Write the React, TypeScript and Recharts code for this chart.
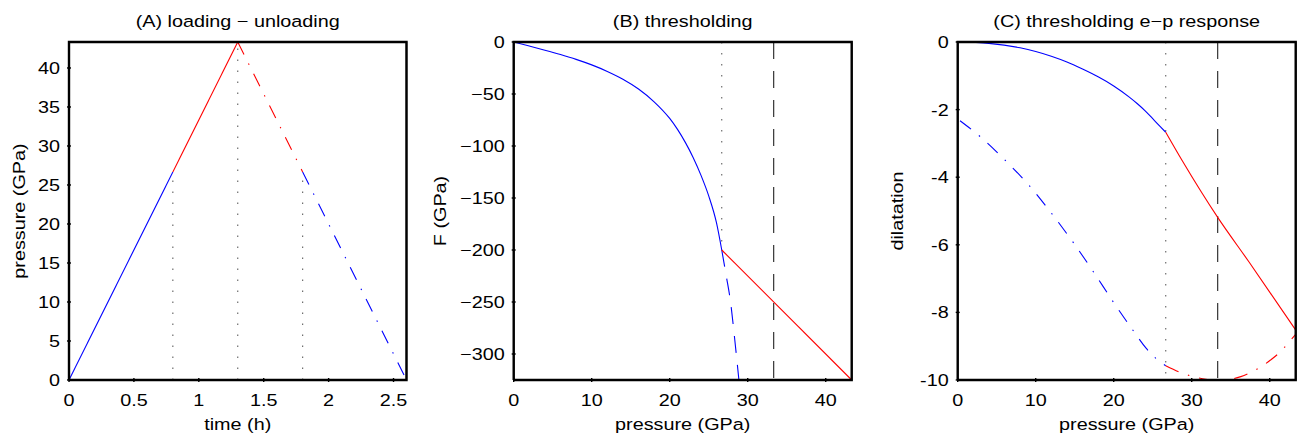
import { LineChart, Line, XAxis, YAxis } from "recharts";

const FONT = "'Liberation Sans', Arial, Helvetica, sans-serif";
const FS = 16.5;
const SX = 1.2; // the reference glyphs are stretched horizontally
const BLUE = "#0000ff";
const RED = "#ff0000";
const GRAY = "#606060";
const DASHDOT = "14 10 1.5 10";
const DASHED = "17 12";
const DOTTED = "1.5 9.5";

// ---- (A) loading - unloading
const timeTicks = [0, 0.5, 1, 1.5, 2, 2.5];
const pressTicksA = [0, 5, 10, 15, 20, 25, 30, 35, 40];
const loadT = [0, 0.8, 1.3];
const loadP = [0, 26.67, 43.33];
const unloadT = [1.3, 1.8, 2.6];
const unloadP = [43.33, 26.67, 0];
const markT = [0.8, 1.3, 1.8];
const markTop = [26.67, 43.33, 26.67];

// ---- (B) thresholding
const pressTicks = [0, 10, 20, 30, 40];
const fTicks = [0, -50, -100, -150, -200, -250, -300];
const fCurveP = [0, 2, 4, 6, 8, 10, 12, 14, 16, 18, 20, 21, 22, 23, 24, 25, 26, 26.67];
const fCurveF = [0, -3.9, -7.9, -12.1, -16.7, -22, -28.3, -35.8, -45.2, -57.5, -73.5, -84, -96.5, -111, -128, -148, -174, -200];
const fExtP = [26.67, 27.25, 27.8, 28.35, 28.87];
const fExtF = [-200, -225, -250, -287, -325];
const fCapP = [26.67, 43.33];
const fCapF = [-200, -325];

// ---- (C) thresholding e-p response
const dilTicks = [0, -2, -4, -6, -8, -10];
const elasP = [0, 4, 8, 10, 12, 14, 16, 18, 20, 22, 23, 24, 25, 26, 26.67];
const elasD = [0, -0.04, -0.17, -0.28, -0.42, -0.59, -0.8, -1.03, -1.3, -1.63, -1.82, -2.03, -2.27, -2.51, -2.67];
const plasP = [26.67, 28.83, 33.33, 37.35, 43.33];
const plasD = [-2.67, -3.53, -5.19, -6.51, -8.52];
const unlBlueP = [0.3, 2.98, 6.26, 9.37, 12.2, 14.9, 17.46, 20.0, 22.44, 24.15, 25.4, 26.67];
const unlBlueD = [-2.33, -2.82, -3.54, -4.3, -5.12, -5.96, -6.82, -7.71, -8.52, -9.06, -9.36, -9.58];
const unlRedP = [26.67, 28.8, 30.5, 31.8, 33.1, 34.8, 36.3, 37.8, 40.1, 41.6, 42.5, 43.33];
const unlRedD = [-9.58, -9.8, -9.92, -9.98, -10, -9.98, -9.9, -9.75, -9.41, -9.11, -8.87, -8.65];

const THRESH = 26.67;
const YIELD = 33.33;

const pts = (xs: number[], ys: number[]) => xs.map((x, i) => ({ x, y: ys[i] }));
const vline = (x: number, y0: number, y1: number) => [{ x, y: y0 }, { x, y: y1 }];
const box = (xd: number[], yd: number[]) => [
  { x: xd[0], y: yd[0] }, { x: xd[1], y: yd[0] }, { x: xd[1], y: yd[1] },
  { x: xd[0], y: yd[1] }, { x: xd[0], y: yd[0] },
];

type Series = { data: { x: number; y: number }[]; color: string; dash?: string; curve?: boolean; w?: number };

const txt = (x: number, y: number, s: string, anchor: string, rot = false) => (
  <text
    transform={`translate(${x},${y})${rot ? " rotate(-90)" : ""} scale(${SX},1)`}
    textAnchor={anchor}
    fontFamily={FONT}
    fontSize={FS}
    fill="#000"
  >
    {s}
  </text>
);

// tick marks drawn as paths, pointing into the plot
const tk = (x1: number, y1: number, x2: number, y2: number) => (
  <path d={`M${x1},${y1}L${x2},${y2}`} stroke="#000" strokeWidth={1.4} fill="none" />
);

const BottomTick = (p: any, fmt: (v: number) => string) => (
  <g>
    {tk(p.x, p.y, p.x, p.y - 4)}
    {txt(p.x, p.y + 24, fmt(p.payload.value), "middle")}
  </g>
);
const LeftTick = (p: any, fmt: (v: number) => string) => (
  <g>
    {tk(p.x, p.y, p.x + 4, p.y)}
    {txt(p.x - 7, p.y + 6, fmt(p.payload.value), "end")}
  </g>
);
const TopTick = (p: any) => <g>{tk(p.x, p.y, p.x, p.y + 4)}</g>;
const RightTick = (p: any) => <g>{tk(p.x, p.y, p.x - 4, p.y)}</g>;

const frame = { stroke: "#000", strokeWidth: 1.3 };

function Panel(props: {
  left: number;
  width: number;
  yw: number;
  rm: number;
  xDomain: number[];
  yDomain: number[];
  xTicks: number[];
  yTicks: number[];
  xFmt: (v: number) => string;
  yFmt: (v: number) => string;
  series: Series[];
}) {
  const { left, width, yw, rm, xDomain, yDomain, xTicks, yTicks, xFmt, yFmt, series } = props;
  const all: Series[] = [...series, { data: box(xDomain, yDomain), color: "#000000", w: 2.4 }];
  return (
    <div style={{ position: "absolute", left, top: 0 }}>
      <LineChart width={width} height={437} margin={{ top: 41, right: rm - 1, bottom: 0, left: 0 }}>
        <XAxis xAxisId="b" type="number" dataKey="x" domain={xDomain} ticks={xTicks} interval={0}
          orientation="bottom" height={57} tickSize={0} tickLine={false}
          axisLine={frame} stroke="#000" tick={(p: any) => BottomTick(p, xFmt)} />
        <XAxis xAxisId="t" type="number" dataKey="x" domain={xDomain} ticks={xTicks} interval={0}
          orientation="top" height={1} tickSize={0} tickLine={false}
          axisLine={frame} stroke="#000" tick={TopTick} />
        <YAxis yAxisId="l" type="number" domain={yDomain} ticks={yTicks} interval={0}
          orientation="left" width={yw} tickSize={0} tickLine={false}
          axisLine={frame} stroke="#000" tick={(p: any) => LeftTick(p, yFmt)} />
        <YAxis yAxisId="r" type="number" domain={yDomain} ticks={yTicks} interval={0}
          orientation="right" width={1} tickSize={0} tickLine={false}
          axisLine={frame} stroke="#000" tick={RightTick} />
        {all.map((s, i) => (
          <Line key={i} xAxisId="b" yAxisId="l" data={s.data} dataKey="y"
            type={s.curve ? "monotone" : "linear"}
            stroke={s.color} strokeWidth={s.w ?? 1.1} strokeDasharray={s.dash} dot={false}
            activeDot={false} isAnimationActive={false} />
        ))}
      </LineChart>
    </div>
  );
}

const plain = (v: number) => String(v);
const minus = (v: number) => (v < 0 ? "\u2212" + Math.abs(v) : String(v));

export default function App() {
  const seriesA: Series[] = [
    ...markT.map((t, i) => ({ data: vline(t, 0, markTop[i]), color: GRAY, dash: DOTTED })),
    { data: pts(loadT.slice(0, 2), loadP.slice(0, 2)), color: BLUE },
    { data: pts(loadT.slice(1), loadP.slice(1)), color: RED },
    { data: pts(unloadT.slice(0, 2), unloadP.slice(0, 2)), color: RED, dash: DASHDOT },
    { data: pts(unloadT.slice(1), unloadP.slice(1)), color: BLUE, dash: DASHDOT },
  ];
  const seriesB: Series[] = [
    { data: vline(THRESH, 0, -200), color: GRAY, dash: DOTTED },
    { data: vline(YIELD, 0, -325), color: "#222", dash: DASHED },
    { data: pts(fCurveP, fCurveF), color: BLUE, curve: true },
    { data: pts(fExtP, fExtF), color: BLUE, dash: DASHED, curve: true },
    { data: pts(fCapP, fCapF), color: RED },
  ];
  const seriesC: Series[] = [
    { data: vline(THRESH, 0, -10), color: GRAY, dash: DOTTED },
    { data: vline(YIELD, 0, -10), color: "#222", dash: DASHED },
    { data: pts(elasP, elasD), color: BLUE, curve: true },
    { data: pts(plasP, plasD), color: RED, curve: true },
    { data: pts(unlBlueP, unlBlueD), color: BLUE, dash: DASHDOT, curve: true },
    { data: pts(unlRedP, unlRedD), color: RED, dash: DASHDOT, curve: true },
  ];

  return (
    <div style={{ position: "absolute", left: 0, top: 0, width: 1298, height: 437, background: "#fff" }}>
      <Panel left={0} width={430} yw={69} rm={23.5} xDomain={[0, 2.6]} yDomain={[0, 43.33]}
        xTicks={timeTicks} yTicks={pressTicksA} xFmt={plain} yFmt={plain} series={seriesA} />
      <Panel left={430} width={430} yw={83.7} rm={8.3} xDomain={[0, 43.33]} yDomain={[-325, 0]}
        xTicks={pressTicks} yTicks={fTicks} xFmt={plain} yFmt={minus} series={seriesB} />
      <Panel left={860} width={438} yw={97.7} rm={2.3} xDomain={[0, 43.33]} yDomain={[-10, 0]}
        xTicks={pressTicks} yTicks={dilTicks} xFmt={plain} yFmt={plain} series={seriesC} />
      <svg width={1298} height={437} style={{ position: "absolute", left: 0, top: 0, pointerEvents: "none" }}>
        {txt(237.7, 26.5, "(A) loading \u2212 unloading", "middle")}
        {txt(682.7, 26.5, "(B) thresholding", "middle")}
        {txt(1126.7, 26.5, "(C) thresholding e\u2212p response", "middle")}
        {txt(237.7, 430, "time (h)", "middle")}
        {txt(682.7, 430, "pressure (GPa)", "middle")}
        {txt(1126.7, 430, "pressure (GPa)", "middle")}
        {txt(25, 211, "pressure (GPa)", "middle", true)}
        {txt(446, 211, "F (GPa)", "middle", true)}
        {txt(903, 211, "dilatation", "middle", true)}
      </svg>
    </div>
  );
}
